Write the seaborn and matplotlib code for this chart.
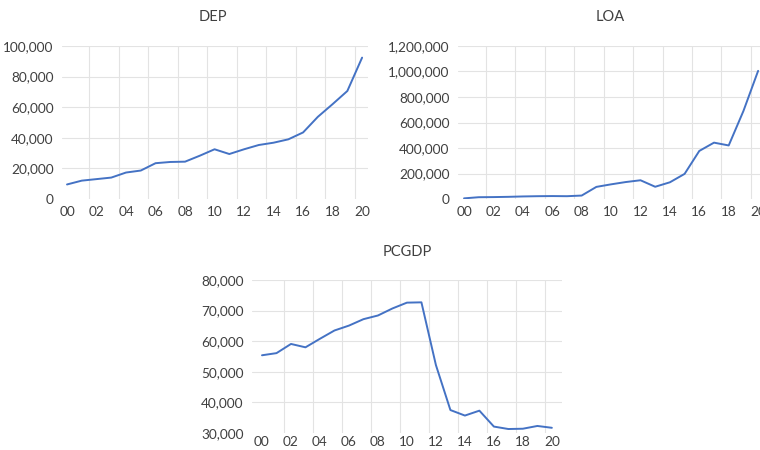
import numpy as np
import pandas as pd
import matplotlib
matplotlib.use("Agg")
import matplotlib.pyplot as plt
import seaborn as sns
from matplotlib.ticker import FuncFormatter

# ── data ──────────────────────────────────────────────────────
years = list(range(0, 21))
year_labels = [f"{y:02d}" for y in range(0, 21, 2)]

dep = [9500, 12000, 13000, 14000, 17300, 18600, 23400, 24200, 24400, 28300,
       32500, 29400, 32500, 35300, 36800, 39000, 43500, 53700, 62000, 70600, 92400]
loa = [5000, 14000, 15000, 17000, 20000, 22000, 23000, 22000, 27000, 95000,
       115000, 133000, 147000, 96000, 131000, 197000, 377000, 442000, 420000, 690000, 1005000]
pcgdp = [55400, 56100, 59100, 58000, 60800, 63500, 65100, 67200, 68400, 70700,
         72600, 72700, 52200, 37500, 35700, 37300, 32100, 31300, 31400, 32300, 31700]

df = pd.DataFrame({"year": years, "DEP": dep, "LOA": loa, "PCGDP": pcgdp})

# ── style ─────────────────────────────────────────────────────
sns.set_theme(style="white")
plt.rcParams["font.family"] = ["Lato", "DejaVu Sans"]
TXT = "#404040"
GRID = "#E3E3E3"
LINE = "#4472C4"

W, H = 760, 450
fig = plt.figure(figsize=(W / 100, H / 100), dpi=100)


def px_axes(x0, x1, y_top, y_bot):
    return fig.add_axes([x0 / W, 1 - y_bot / H, (x1 - x0) / W, (y_bot - y_top) / H])


def draw(ax, col, ylim, ystep, xlim, title, title_xy, xpad):
    sns.lineplot(data=df, x="year", y=col, ax=ax, color=LINE, linewidth=1.4)
    ax.set_xlim(*xlim)
    ax.set_ylim(*ylim)
    yt = np.arange(ylim[0], ylim[1] + 1, ystep)
    ax.set_yticks(yt)
    ax.yaxis.set_major_formatter(FuncFormatter(lambda v, p: f"{int(v):,}"))
    ax.set_xticks(range(0, 21, 2))
    ax.set_xticklabels(year_labels)
    # grid: horizontal at ticks above the minimum, vertical between label pairs
    for v in yt[1:]:
        ax.axhline(v, color=GRID, linewidth=0.8, zorder=0)
    for g in np.arange(1.5, 20, 2):
        ax.axvline(g, color=GRID, linewidth=0.8, zorder=0)
    ax.tick_params(axis="both", length=0, labelsize=9.8, labelcolor=TXT)
    ax.tick_params(axis="x", pad=xpad)
    ax.tick_params(axis="y", pad=6)
    ax.set_xlabel("")
    ax.set_ylabel("")
    for s in ax.spines.values():
        s.set_visible(False)
    fig.text(title_xy[0] / W, 1 - title_xy[1] / H, title, ha="center", va="center",
             fontsize=10.5, color=TXT)


# DEP
ax1 = px_axes(62, 368, 46, 199)
draw(ax1, "DEP", (0, 100000), 20000, (-0.34, 20.4), "DEP", (213, 17), 5)

# LOA (right edge is cut by the figure border, as in the reference)
ax2 = px_axes(458, 764, 46, 199)
draw(ax2, "LOA", (0, 1200000), 200000, (-0.41, 20.4), "LOA", (610, 17), 5)

# PCGDP
ax3 = px_axes(252, 562, 280, 433)
draw(ax3, "PCGDP", (30000, 80000), 10000, (-0.69, 20.7), "PCGDP", (407, 252), 2.5)

fig.savefig("out.png", dpi=100)
